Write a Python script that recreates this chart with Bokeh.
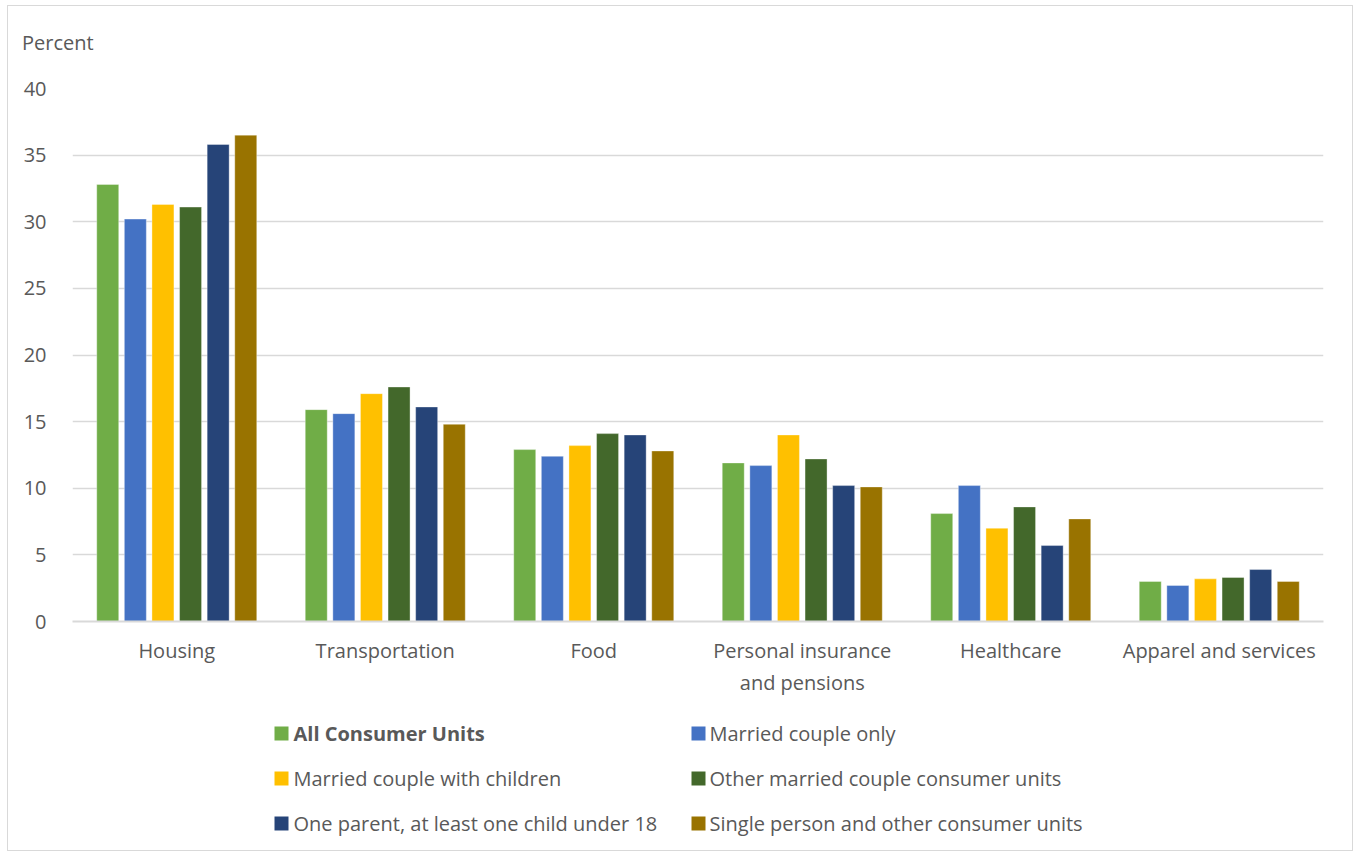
from bokeh.plotting import figure
from bokeh.models import FactorRange, Range1d, ColumnDataSource, SingleIntervalTicker, Div
from bokeh.transform import dodge
from bokeh.layouts import column
from bokeh.embed import file_html
from bokeh.resources import INLINE
from bokeh.core.properties import value

categories = ["Housing", "Transportation", "Food", "Personal insurance\nand pensions",
              "Healthcare", "Apparel and services"]
series_names = ["All Consumer Units", "Married couple only", "Married couple with children",
                "Other married couple consumer units", "One parent, at least one child under 18",
                "Single person and other consumer units"]
y_title = "Percent"
all_consumer_units = [32.8, 15.9, 12.9, 11.9, 8.1, 3.0]
married_only = [30.2, 15.6, 12.4, 11.7, 10.2, 2.7]
married_children = [31.3, 17.1, 13.2, 14.0, 7.0, 3.2]
other_married = [31.1, 17.6, 14.1, 12.2, 8.6, 3.3]
one_parent = [35.8, 16.1, 14.0, 10.2, 5.7, 3.9]
single_other = [36.5, 14.8, 12.8, 10.1, 7.7, 3.0]
colors = ["#70AD47", "#4472C4", "#FFC000", "#43682B", "#264478", "#997300"]

series_values = [all_consumer_units, married_only, married_children,
                 other_married, one_parent, single_other]

FONT = "Open Sans"
FS = "20px"
TXT = "#595959"
GRID = "#d9d9d9"

W = 1344
HH = 60
header = Div(text=f'<div style="position:absolute; left:14px; top:23px; font-family:\'{FONT}\'; '
                  f'font-size:{FS}; line-height:27px; color:{TXT}; white-space:nowrap;">{y_title}</div>',
             width=W, height=HH, margin=0, styles={"position": "relative", "background": "white"})

H = 634
p = figure(x_range=FactorRange(*categories, range_padding=0), y_range=Range1d(0, 40),
           width=W, height=H, output_backend="svg", toolbar_location=None,
           min_border_left=64, min_border_right=29, min_border_top=22, min_border_bottom=79)
p.outline_line_color = None
p.background_fill_color = "white"
p.border_fill_color = "white"

data = {"cat": categories}
for i, vals in enumerate(series_values):
    data[f"s{i}"] = vals
src = ColumnDataSource(data)

stride = 0.1324
bw = 0.1055
for i in range(6):
    p.vbar(x=dodge("cat", (i - 2.5) * stride, range=p.x_range), top=f"s{i}", width=bw,
           source=src, fill_color=colors[i], line_color="white", line_width=0.6, line_alpha=0.6)

p.xgrid.grid_line_color = None
p.ygrid.grid_line_color = GRID
p.ygrid.grid_line_width = 1.5
p.yaxis.ticker = SingleIntervalTicker(interval=5)
p.yaxis.axis_line_color = None
p.yaxis.major_tick_line_color = None
p.yaxis.minor_tick_line_color = None
p.yaxis.major_label_text_font = FONT
p.yaxis.major_label_text_font_size = FS
p.yaxis.major_label_text_color = TXT
p.yaxis.major_label_standoff = 20

p.xaxis.axis_line_color = GRID
p.xaxis.axis_line_width = 2
p.xaxis.major_tick_line_color = None
p.xaxis.minor_tick_line_color = None
p.xaxis.major_label_text_font = FONT
p.xaxis.major_label_text_font_size = FS
p.xaxis.major_label_text_color = TXT
p.xaxis.major_label_standoff = 9

# legend as its own panel, x in page pixels
LH = 150
leg = figure(width=W, height=LH, x_range=Range1d(72, 1323), y_range=Range1d(LH, 0),
             output_backend="svg", toolbar_location=None,
             min_border_left=64, min_border_right=29, min_border_top=0, min_border_bottom=0)
leg.axis.visible = False
leg.grid.visible = False
leg.outline_line_color = None
leg.border_fill_color = "white"

marker_x = [274, 691]
text_x = [293, 709]
row_y = [33, 78, 123]
mx, my, tx, ty, styles, mcol = [], [], [], [], [], []
for i, name in enumerate(series_names):
    r, c = divmod(i, 2)
    mx.append(marker_x[c] + 7)
    my.append(row_y[r])
    tx.append(text_x[c])
    ty.append(row_y[r])
    styles.append("bold" if i == 0 else "normal")
    mcol.append(colors[i])
lsrc = ColumnDataSource(dict(mx=mx, my=my, tx=tx, ty=ty, name=series_names, st=styles, c=mcol))
leg.rect(x="mx", y="my", width=14, height=14, fill_color="c", line_color=None, source=lsrc)
leg.text(x="tx", y="ty", text="name", text_font=value(FONT), text_font_size=FS,
         text_color=TXT, text_baseline="middle", text_align="left", text_font_style="st",
         source=lsrc)

layout = column(header, p, leg, spacing=0, margin=(5, 0, 0, 7),
                styles={"border": "1px solid #d9d9d9", "background": "white"})

open("out.html", "w").write(file_html(layout, INLINE))
